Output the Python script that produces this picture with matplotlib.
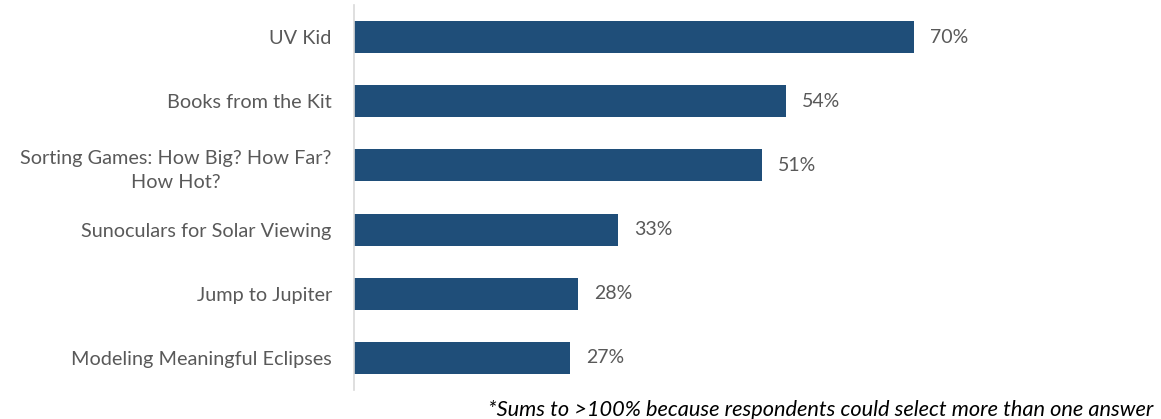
import matplotlib.pyplot as plt

# data (top to bottom as shown)
labels = ['UV Kid', 'Books from the Kit', 'Sorting Games: How Big? How Far?\nHow Hot?',
          'Sunoculars for Solar Viewing', 'Jump to Jupiter', 'Modeling Meaningful Eclipses']
values = [70, 54, 51, 33, 28, 27]

plt.rcParams['font.family'] = ['Lato', 'DejaVu Sans']
text_color = '#595959'

fig = plt.figure(figsize=(11.61, 4.19), dpi=100)
ax = fig.add_axes([354 / 1161, 29 / 419, 800 / 1161, 385 / 419])

pos = list(range(len(labels)))[::-1]
ax.barh(pos, values, height=0.5, color='#1F4E79')
for p, v in zip(pos, values):
    ax.text(v + 2, p, f'{v}%', va='center', ha='left', fontsize=14, color=text_color)

ax.set_xlim(0, 100)
ax.set_ylim(-0.5, len(labels) - 0.5)
ax.set_yticks(pos)
ax.set_yticklabels(labels, fontsize=14.3, color=text_color, ha='right',
                   multialignment='center', linespacing=1.5)
ax.tick_params(axis='y', length=0, pad=16)
ax.set_xticks([])

for s in ['top', 'right', 'bottom']:
    ax.spines[s].set_visible(False)
ax.spines['left'].set_color('#D9D9D9')
ax.spines['left'].set_linewidth(1.2)

fig.text(1153 / 1161, 9 / 419, '*Sums to >100% because respondents could select more than one answer',
         ha='right', va='center', fontsize=15.7, style='italic', color='black')

fig.savefig('out.png', dpi=100)
